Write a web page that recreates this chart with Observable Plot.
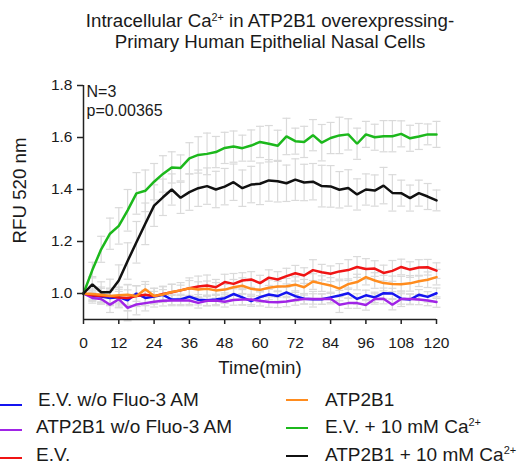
<!DOCTYPE html>
<html><head><meta charset="utf-8">
<script src="https://cdn.jsdelivr.net/npm/d3@7"></script>
<script src="https://cdn.jsdelivr.net/npm/@observablehq/plot@0.6"></script>
<style>
body{margin:0;background:#fff;font-family:"Liberation Sans",Arial,sans-serif;}
#wrap{position:relative;width:519px;height:469px;overflow:hidden;background:#fff;}
#title{position:absolute;left:0;top:11px;width:540px;text-align:center;font-size:18.7px;line-height:20.5px;color:#1a1a1a;}
sup{font-size:0.58em;vertical-align:0.6em;line-height:0;}
#chart{position:absolute;left:0;top:70px;}
.leg{position:absolute;font-size:19px;line-height:20px;color:#1a1a1a;white-space:nowrap;}
.sw{position:absolute;height:2px;width:22px;}
</style></head>
<body><div id="wrap">
<div id="title">Intracellular Ca<sup>2+</sup> in ATP2B1 overexpressing-<br>Primary Human Epithelial Nasal Cells</div>
<div id="chart"></div>
<div id="legend"></div>
</div>
<script>
const time = [0,3,6,9,12,15,18,21,24,27,30,33,36,39,42,45,48,51,54,57,60,63,66,69,72,75,78,81,84,87,90,93,96,99,102,105,108,111,114,117,120];
const xTicks = [0,12,24,36,48,60,72,84,96,108,120];
const yTicks = [1.0,1.2,1.4,1.6,1.8];
const notes = ["N=3","p=0.00365"];
const xLabel = "Time(min)";
const yLabel = "RFU 520 nm";

const seriesNames = ["E.V. w/o Fluo-3 AM","ATP2B1 w/o Fluo-3 AM","E.V.","ATP2B1","E.V. + 10 mM Ca2+","ATP2B1 + 10 mM Ca2+"];
const seriesColors = ["#1414f0","#a024e6","#f01414","#ff8c1e","#1cb81c","#111111"];

const evNoDye  = [1.000,0.990,0.988,0.983,0.986,0.974,1.000,0.983,0.988,0.995,0.977,0.977,0.988,0.976,0.974,0.977,0.982,0.998,0.985,0.971,0.986,0.996,0.990,1.004,0.990,0.980,0.978,0.978,0.985,0.992,1.001,0.979,0.993,0.985,1.001,1.000,0.980,0.977,0.995,0.987,1.001];
const atpNoDye = [1.000,0.983,0.979,0.957,0.978,0.945,0.958,0.963,0.968,0.972,0.973,0.973,0.973,0.964,0.972,0.973,0.968,0.975,0.977,0.977,0.972,0.967,0.966,0.969,0.975,0.979,0.979,0.979,0.980,0.957,0.963,0.963,0.956,0.979,0.980,0.957,0.979,0.979,0.977,0.973,0.967];
const ev       = [1.000,0.993,0.990,0.990,0.985,0.983,0.990,0.995,0.990,0.998,1.005,1.012,1.020,1.027,1.031,1.024,1.044,1.037,1.050,1.054,1.040,1.061,1.054,1.067,1.078,1.069,1.090,1.082,1.076,1.085,1.090,1.102,1.094,1.096,1.079,1.087,1.102,1.092,1.100,1.101,1.088];
const atp      = [1.000,0.998,0.995,0.990,0.993,0.995,0.990,1.016,0.990,0.996,1.006,1.012,1.020,1.015,1.018,1.012,1.015,1.024,1.030,1.018,1.014,1.022,1.027,1.028,1.034,1.024,1.046,1.038,1.031,1.019,1.036,1.044,1.063,1.050,1.040,1.037,1.036,1.039,1.047,1.053,1.063];
const evCa     = [1.000,1.090,1.170,1.230,1.260,1.320,1.385,1.395,1.430,1.460,1.485,1.483,1.520,1.533,1.537,1.544,1.560,1.565,1.559,1.569,1.583,1.576,1.568,1.604,1.586,1.583,1.609,1.580,1.598,1.608,1.612,1.576,1.612,1.601,1.605,1.605,1.614,1.597,1.604,1.612,1.612];
const atpCa    = [1.000,1.035,1.005,1.005,1.050,1.125,1.197,1.268,1.338,1.370,1.400,1.368,1.390,1.405,1.413,1.400,1.411,1.428,1.405,1.419,1.422,1.435,1.432,1.424,1.438,1.427,1.430,1.413,1.412,1.399,1.406,1.381,1.400,1.396,1.415,1.387,1.386,1.367,1.386,1.373,1.358];

const errEvNoDye  = [0,0.02,0.02,0.03,0.03,0.04,0.03,0.03,0.02,0.02,0.02,0.02,0.03,0.02,0.02,0.02,0.02,0.02,0.03,0.02,0.02,0.02,0.02,0.02,0.02,0.02,0.03,0.02,0.02,0.02,0.02,0.02,0.02,0.02,0.02,0.02,0.03,0.02,0.02,0.02,0.02];
const errAtpNoDye = [0,0.02,0.02,0.03,0.03,0.05,0.04,0.03,0.02,0.02,0.02,0.02,0.02,0.02,0.02,0.02,0.02,0.02,0.02,0.02,0.02,0.02,0.02,0.02,0.02,0.02,0.02,0.02,0.02,0.03,0.02,0.02,0.02,0.02,0.02,0.02,0.02,0.02,0.02,0.02,0.02];
const errEv       = [0,0.02,0.03,0.03,0.04,0.05,0.04,0.04,0.03,0.03,0.03,0.03,0.04,0.04,0.04,0.03,0.03,0.04,0.03,0.03,0.03,0.03,0.03,0.03,0.03,0.03,0.04,0.03,0.03,0.03,0.04,0.04,0.04,0.03,0.03,0.04,0.03,0.03,0.03,0.03,0.03];
const errAtp      = [0,0.02,0.03,0.03,0.03,0.04,0.04,0.03,0.03,0.03,0.03,0.02,0.03,0.03,0.03,0.03,0.02,0.03,0.03,0.03,0.03,0.03,0.02,0.03,0.03,0.03,0.03,0.03,0.03,0.03,0.02,0.03,0.03,0.03,0.03,0.03,0.03,0.03,0.02,0.03,0.03];
const errEvCa     = [0,0.03,0.05,0.06,0.07,0.08,0.08,0.08,0.07,0.07,0.06,0.05,0.06,0.07,0.08,0.06,0.06,0.06,0.05,0.06,0.06,0.07,0.06,0.07,0.05,0.06,0.06,0.07,0.06,0.07,0.06,0.06,0.05,0.05,0.06,0.06,0.05,0.05,0.05,0.04,0.05];
const errAtpCa    = [0,0.03,0.04,0.05,0.06,0.07,0.08,0.08,0.08,0.07,0.06,0.06,0.07,0.07,0.07,0.07,0.07,0.07,0.07,0.07,0.08,0.08,0.08,0.07,0.08,0.07,0.07,0.08,0.08,0.07,0.07,0.06,0.06,0.06,0.07,0.07,0.05,0.05,0.05,0.05,0.04];

const values = [evNoDye, atpNoDye, ev, atp, evCa, atpCa];
const errors = [errEvNoDye, errAtpNoDye, errEv, errAtp, errEvCa, errAtpCa];

const rows = [];
seriesNames.forEach((s, k) => {
  time.forEach((t, i) => rows.push({series: s, t, v: values[k][i], e: errors[k][i]}));
});
const bars = rows.filter(d => d.e > 0);

const cap = {draw(ctx, size) { const r = Math.sqrt(size / Math.PI); ctx.moveTo(-r, 0); ctx.lineTo(r, 0); }};
const barColor = "#dadada";

const chart = Plot.plot({
  width: 519, height: 310,
  marginLeft: 83, marginRight: 83, marginTop: 15, marginBottom: 61,
  style: {fontFamily: "'Liberation Sans', Arial, sans-serif", color: "#1a1a1a", background: "white"},
  x: {domain: [0, 120]},
  y: {domain: [0.9, 1.8]},
  color: {domain: seriesNames, range: seriesColors},
  marks: [
    Plot.ruleX(bars, {x: "t", y1: d => d.v - d.e, y2: d => d.v + d.e, stroke: barColor, strokeWidth: 1.2}),
    Plot.dot(bars, {x: "t", y: d => d.v + d.e, symbol: cap, r: 4, stroke: barColor, strokeWidth: 1.2}),
    Plot.dot(bars, {x: "t", y: d => d.v - d.e, symbol: cap, r: 4, stroke: barColor, strokeWidth: 1.2}),
    Plot.line(rows, {x: "t", y: "v", z: "series", stroke: "series", strokeWidth: 2.5, strokeLinejoin: "miter"}),
    Plot.ruleX([0], {stroke: "#222", strokeWidth: 1.5}),
    Plot.ruleY([0.9], {stroke: "#222", strokeWidth: 1.5}),
    Plot.axisX({ticks: xTicks, tickSize: 5, tickPadding: 12, fontSize: 15.5, label: null, stroke: "#222", strokeWidth: 1.5}),
    Plot.axisY({ticks: yTicks, tickFormat: d3.format(".1f"), tickSize: 6, tickPadding: 5, fontSize: 15.5, label: null, stroke: "#222", strokeWidth: 1.5}),
    Plot.text([notes.join("\n")], {frameAnchor: "top-left", lineAnchor: "top", textAnchor: "start", dx: 3, dy: -2, fontSize: 16, lineHeight: 1.2}),
    Plot.text([yLabel], {frameAnchor: "left", textAnchor: "middle", rotate: -90, dx: -63, dy: -12, fontSize: 18.7}),
    Plot.text([xLabel], {frameAnchor: "bottom", dy: 54, fontSize: 18.7})
  ]
});
document.getElementById("chart").appendChild(chart);

// legend
const legendPos = [
  {sx: 0, sy: 405, tx: 38, ty: 390},
  {sx: 0, sy: 430, tx: 36, ty: 417},
  {sx: 0, sy: 458, tx: 36, ty: 445},
  {sx: 286, sy: 400, tx: 325, ty: 390},
  {sx: 286, sy: 428, tx: 325, ty: 417},
  {sx: 286, sy: 456, tx: 325, ty: 445}
];
const legend = document.getElementById("legend");
seriesNames.forEach((s, k) => {
  const p = legendPos[k];
  const sw = document.createElement("div");
  sw.className = "sw";
  sw.style.left = p.sx + "px"; sw.style.top = (p.sy - 1) + "px"; sw.style.background = seriesColors[k];
  legend.appendChild(sw);
  const t = document.createElement("div");
  t.className = "leg";
  t.style.left = p.tx + "px"; t.style.top = p.ty + "px";
  t.innerHTML = s.replace("Ca2+", "Ca<sup>2+</sup>");
  legend.appendChild(t);
});
</script>
</body></html>
